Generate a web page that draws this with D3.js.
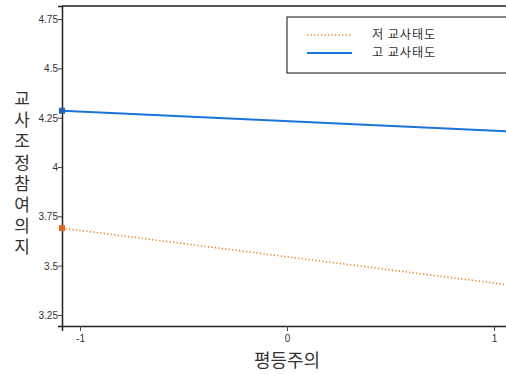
<!DOCTYPE html>
<html><head><meta charset="utf-8">
<script src="https://cdn.jsdelivr.net/npm/d3@7"></script>
<style>body{margin:0;background:#fff}svg{display:block}</style>
</head><body>
<script>
const seriesNames = ["저 교사태도", "고 교사태도"];
const xValues = [-1.087, 1.087];
const lowValues = [3.69, 3.40];
const highValues = [4.285, 4.18];
const yTicks = [3.25, 3.5, 3.75, 4, 4.25, 4.5, 4.75];
const xTicks = [-1, 0, 1];
const yTitle = "교사조정참여의지";
const xTitle = "평등주의";

const W = 506, H = 374;
const svg = d3.select("body").append("svg").attr("width", W).attr("height", H);
const x = d3.scaleLinear().domain([-1.087, 1.087]).range([62, 512]);
const y = d3.scaleLinear().domain([3.194, 4.816]).range([326, 6]);

const colors = ["#e8821e", "#1a74dc"];
const markColors = ["#e0661c", "#2064b8"];

// frame
svg.append("line").attr("x1", 62).attr("x2", W).attr("y1", 6).attr("y2", 6).attr("stroke", "#222").attr("stroke-width", 1.5);

const yAxis = svg.append("g").attr("transform", "translate(62,0)")
  .call(d3.axisLeft(y).tickValues(yTicks).tickSize(4).tickPadding(0).tickFormat(d => d3.format("")(d)));
const xAxis = svg.append("g").attr("transform", "translate(0,326)")
  .call(d3.axisBottom(x).tickValues(xTicks).tickSize(5).tickPadding(4).tickFormat(d => d));
[yAxis, xAxis].forEach(a => {
  a.select(".domain").attr("stroke", "#222").attr("stroke-width", 1.5);
  a.selectAll(".tick line").attr("stroke", "#444");
  a.selectAll("text").attr("font-family", "Liberation Sans, Arial, sans-serif").attr("font-size", 10).attr("fill", "#333");
});
yAxis.selectAll("text").attr("dy", "0.35em");

const line = d3.line().x((d, i) => x(xValues[i])).y(d => y(d));
const data = [lowValues, highValues];
data.forEach((vals, k) => {
  svg.append("path").datum(vals).attr("d", line).attr("fill", "none")
    .attr("stroke", colors[k]).attr("stroke-width", k === 0 ? 1.6 : 2)
    .attr("stroke-dasharray", k === 0 ? "1.2,2.3" : null);
  svg.append("rect").attr("x", x(xValues[0]) - 3).attr("y", y(vals[0]) - 3)
    .attr("width", 6).attr("height", 6).attr("fill", markColors[k]);
});

// legend
svg.append("rect").attr("x", 287).attr("y", 17).attr("width", 240).attr("height", 56)
  .attr("fill", "#fff").attr("stroke", "#333").attr("stroke-width", 1.2);
seriesNames.forEach((n, k) => {
  const ly = 35 + k * 18;
  svg.append("line").attr("x1", 307).attr("x2", 352).attr("y1", ly).attr("y2", ly)
    .attr("stroke", colors[k]).attr("stroke-width", k === 0 ? 1.6 : 2)
    .attr("stroke-dasharray", k === 0 ? "1.2,2.3" : null);
  svg.append("text").attr("x", 372).attr("y", ly).attr("dy", "0.35em")
    .attr("font-family", "Noto Sans CJK KR, sans-serif").attr("font-size", 12.2)
    .attr("letter-spacing", 0.9).attr("fill", "#333").text(n);
});

// titles
svg.append("text").attr("x", 22).attr("y", 90)
  .attr("font-family", "Noto Sans CJK KR, sans-serif")
  .attr("font-size", 17).attr("fill", "#333")
  .style("writing-mode", "vertical-rl").style("text-orientation", "upright")
  .attr("letter-spacing", 4.2).text(yTitle);
svg.append("text").attr("x", 287).attr("y", 361).attr("dy", "0.35em").attr("text-anchor", "middle")
  .attr("font-family", "Noto Sans CJK KR, sans-serif").attr("font-size", 18).attr("fill", "#333").text(xTitle);
</script>
</body></html>
